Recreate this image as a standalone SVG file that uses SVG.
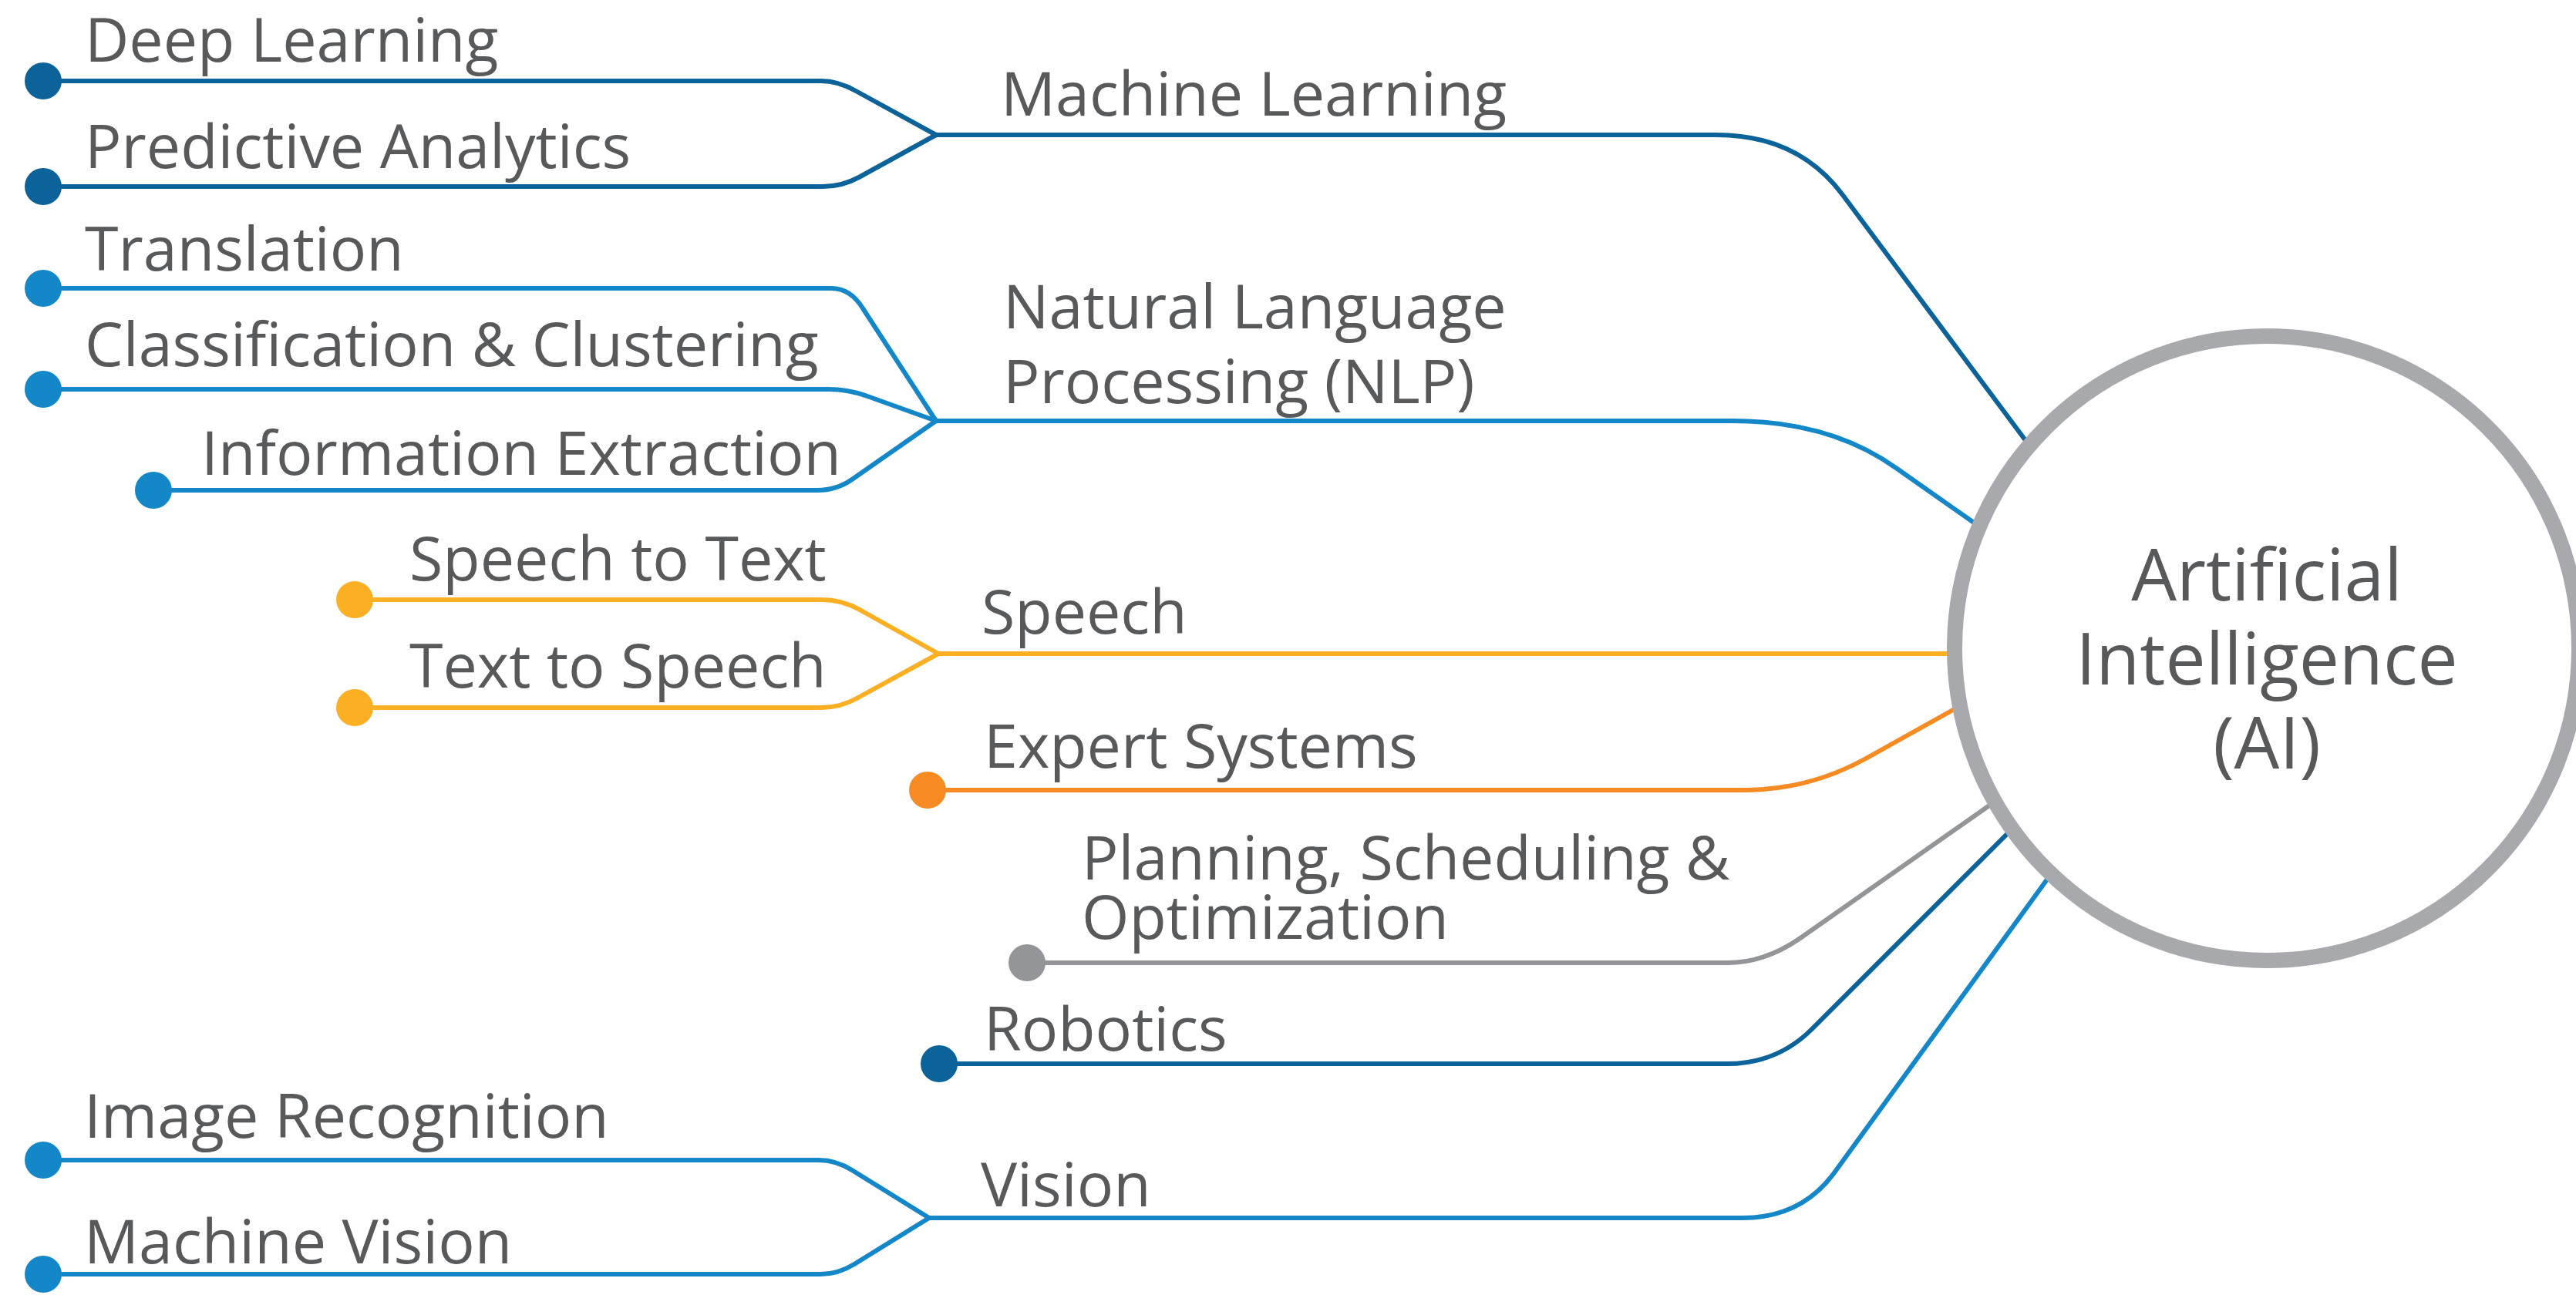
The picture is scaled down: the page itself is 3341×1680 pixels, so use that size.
<svg xmlns="http://www.w3.org/2000/svg" width="3341" height="1680" viewBox="0 0 3341 1680">
<style>
.lbl{font-family:"Open Sans","Noto Sans","Liberation Sans",sans-serif;font-size:79px;fill:#58595b}
.ai{font-family:"Open Sans","Noto Sans","Liberation Sans",sans-serif;font-size:93px;fill:#58595b;text-anchor:middle}
.ln{fill:none;stroke-width:6;stroke-linejoin:round;stroke-linecap:round}
.dk{stroke:#0b6399}.dkf{fill:#0b6399}
.lt{stroke:#1487c9}.ltf{fill:#1487c9}
.yl{stroke:#fbb023}.ylf{fill:#fbb023}
.or{stroke:#f58b22}.orf{fill:#f58b22}
.gy{stroke:#939598}.gyf{fill:#939598}
</style>
<rect width="3341" height="1680" fill="#ffffff"/>
<g id="connectors">
<path class="ln dk" d="M56,105 H1065 Q1087,105 1110,118 L1214,175"/>
<path class="ln dk" d="M56,242 H1067 Q1092,242 1114,230 L1214,175"/>
<path class="ln dk" d="M1214,175 H2226 Q2332,175 2390,253 L2632,578"/>
<path class="ln lt" d="M56,374 H1078 Q1103,374 1119,400 L1214,546"/>
<path class="ln lt" d="M56,505 H1075 Q1100,505 1125,514 L1214,546"/>
<path class="ln lt" d="M199,636 H1060 Q1085,636 1105,622 L1214,546"/>
<path class="ln lt" d="M1214,546 H2247 Q2373,546 2459,607 L2570,685"/>
<path class="ln yl" d="M460,778 H1065 Q1092,778 1115,791 L1217,848"/>
<path class="ln yl" d="M460,918 H1065 Q1090,918 1113,905 L1217,848"/>
<path class="ln yl" d="M1217,848 H2535"/>
<path class="ln or" d="M1203,1025 H2260 Q2346,1025 2420,984 L2540,917"/>
<path class="ln gy" d="M1332,1249 H2240 Q2289,1249 2335,1217 L2580,1045"/>
<path class="ln dk" d="M1218,1380 H2240 Q2305,1380 2350,1335 L2606,1079"/>
<path class="ln lt" d="M56,1505 H1062 Q1084,1505 1105,1518 L1205,1580"/>
<path class="ln lt" d="M56,1653 H1064 Q1087,1653 1108,1640 L1205,1580"/>
<path class="ln lt" d="M1205,1580 H2260 Q2337,1580 2380,1520 L2660,1134"/>
</g>
<g id="ai">
<circle cx="2940" cy="841" r="405" fill="#ffffff" stroke="#a7a9ac" stroke-width="20"/>
<text class="ai" x="2940" y="779">Artificial</text>
<text class="ai" x="2940" y="888">Intelligence</text>
<text class="ai" x="2940" y="997">(AI)</text>
</g>
<g id="machine-learning"><text class="lbl" x="1298" y="150">Machine Learning</text></g>
<g id="deep-learning"><circle class="dkf" cx="56" cy="105" r="24"/><text class="lbl" x="110" y="80">Deep Learning</text></g>
<g id="predictive-analytics"><circle class="dkf" cx="56" cy="242" r="24"/><text class="lbl" x="110" y="218">Predictive Analytics</text></g>
<g id="nlp"><text class="lbl" x="1301" y="426">Natural Language</text><text class="lbl" x="1301" y="523">Processing (NLP)</text></g>
<g id="translation"><circle class="ltf" cx="56" cy="374" r="24"/><text class="lbl" x="110" y="351">Translation</text></g>
<g id="classification"><circle class="ltf" cx="56" cy="505" r="24"/><text class="lbl" x="110" y="475">Classification &amp; Clustering</text></g>
<g id="information-extraction"><circle class="ltf" cx="199" cy="636" r="24"/><text class="lbl" x="261" y="616">Information Extraction</text></g>
<g id="speech"><text class="lbl" x="1273" y="822">Speech</text></g>
<g id="speech-to-text"><circle class="ylf" cx="460" cy="778" r="24"/><text class="lbl" x="531" y="753">Speech to Text</text></g>
<g id="text-to-speech"><circle class="ylf" cx="460" cy="918" r="24"/><text class="lbl" x="531" y="892">Text to Speech</text></g>
<g id="expert-systems"><circle class="orf" cx="1203" cy="1025" r="24"/><text class="lbl" x="1276" y="996">Expert Systems</text></g>
<g id="planning"><circle class="gyf" cx="1332" cy="1249" r="24"/><text class="lbl" x="1403" y="1141">Planning, Scheduling &amp;</text><text class="lbl" x="1403" y="1218">Optimization</text></g>
<g id="robotics"><circle class="dkf" cx="1218" cy="1380" r="24"/><text class="lbl" x="1276" y="1363">Robotics</text></g>
<g id="vision"><text class="lbl" x="1272" y="1565">Vision</text></g>
<g id="image-recognition"><circle class="ltf" cx="56" cy="1505" r="24"/><text class="lbl" x="109" y="1476">Image Recognition</text></g>
<g id="machine-vision"><circle class="ltf" cx="56" cy="1653" r="24"/><text class="lbl" x="109" y="1639">Machine Vision</text></g>
</svg>
